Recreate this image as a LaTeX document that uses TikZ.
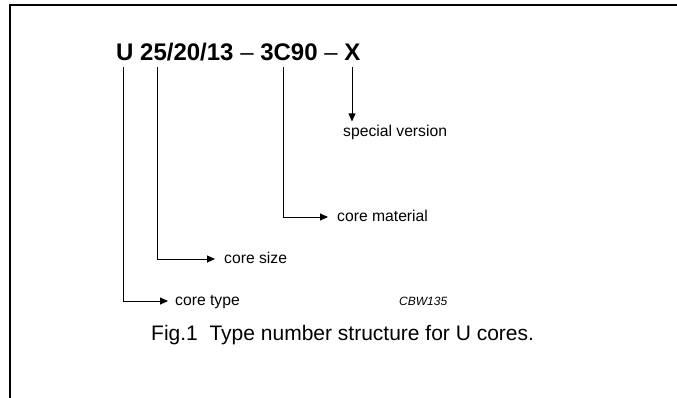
\documentclass[tikz,border=0pt]{standalone}
\usepackage{fontspec}
\setmainfont{Liberation Sans}
\usetikzlibrary{arrows.meta,calc}
\begin{document}
\begin{tikzpicture}[x=1pt,y=1pt,
  lbl/.style={anchor=base west,inner sep=0pt,font=\fontsize{15.7}{18}\selectfont},
  conn/.style={line width=0.9pt,-{Triangle[length=8pt,width=7pt]}},
]
\useasboundingbox (0,0) rectangle (677,398);
\draw[line width=2pt] (10,0) -- (10,393) -- (677,393);
\node[anchor=base west,inner sep=0pt,font=\fontsize{24}{28}\selectfont\bfseries] (title) at (116,337) {U 25/20/13 {\mdseries –} 3C90 {\mdseries –} X};
\coordinate (cU) at (123,331);
\coordinate (cS) at (157,331);
\coordinate (cM) at (283,331);
\coordinate (cX) at (352,331);
\node[lbl] (ltype) at (175,92) {core type};
\node[lbl] (lsize) at (224,134) {core size};
\node[lbl] (lmat) at (337,176) {core material};
\node[lbl] (lspec) at (343,261) {special version};
\node[anchor=base west,inner sep=0pt,font=\fontsize{12}{14}\selectfont\itshape] (code) at (399,92) {CBW135};
\node[anchor=base west,inner sep=0pt,font=\fontsize{21}{25}\selectfont] (cap) at (151,57) {Fig.1\ \ Type number structure for U cores.};
\draw[conn] (cU) |- ($(ltype.base west)+(-7,5)$);
\draw[conn] (cS) |- ($(lsize.base west)+(-9,5)$);
\draw[conn] (cM) |- ($(lmat.base west)+(-9,5)$);
\draw[conn] (cX) -- ($(cX |- lspec.north)+(0,4)$);
\end{tikzpicture}
\end{document}
